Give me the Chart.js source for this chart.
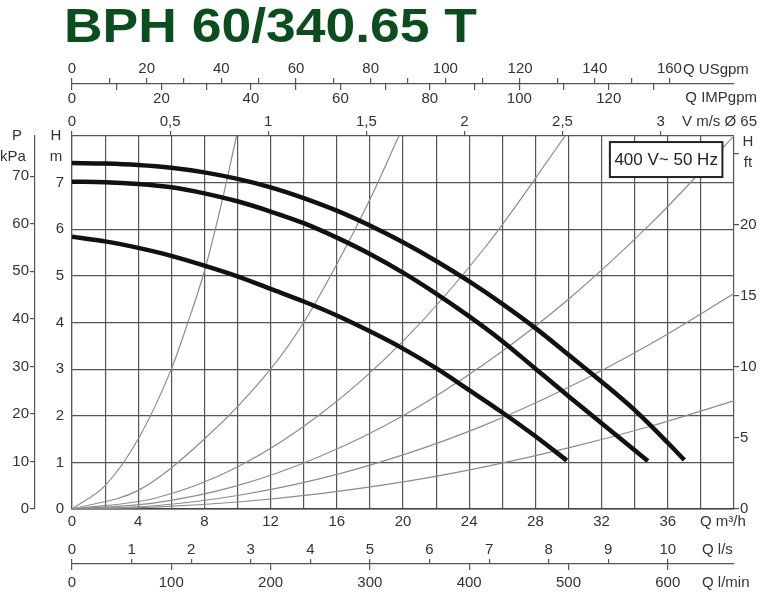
<!DOCTYPE html>
<html>
<head>
<meta charset="utf-8">
<script src="https://cdn.jsdelivr.net/npm/chart.js@4.4.1/dist/chart.umd.min.js"></script>
<style>
  html, body { margin: 0; padding: 0; background: #fff; }
  #wrap { width: 772px; height: 594px; position: relative; }
</style>
</head>
<body>
<div id="wrap"><canvas id="pump-chart"></canvas></div>
<script>
const FONT = '"Liberation Sans", Arial, sans-serif';

// pump curves, Q in m3/h, H in m
const q1 = [0, 2, 4, 6, 8, 10, 12, 14, 16, 18, 20, 22, 24, 26, 28, 30, 32, 34, 36, 37];
const h1 = [7.42, 7.41, 7.38, 7.32, 7.22, 7.08, 6.90, 6.67, 6.40, 6.08, 5.72, 5.32, 4.88, 4.40, 3.88, 3.31, 2.73, 2.12, 1.42, 1.05];
const q2 = [0, 2, 4, 6, 8, 10, 12, 14, 16, 18, 20, 22, 24, 26, 28, 30, 32, 34, 34.8];
const h2 = [7.02, 7.01, 6.97, 6.90, 6.77, 6.60, 6.38, 6.13, 5.82, 5.47, 5.07, 4.62, 4.13, 3.60, 3.01, 2.42, 1.84, 1.26, 1.03];
const q3 = [0, 2, 4, 6, 8, 10, 12, 14, 16, 18, 20, 22, 24, 26, 28, 29.9];
const h3 = [5.84, 5.74, 5.60, 5.43, 5.22, 4.99, 4.72, 4.45, 4.15, 3.81, 3.44, 3.02, 2.55, 2.07, 1.56, 1.04];

// thin system curves from the origin
const sqA = [0, 2, 4, 6, 7, 8, 9, 9.94];
const shA = [0, 0.5, 1.5, 3.0, 4.0, 5.1, 6.5, 8.0];
const sqB = [0, 4, 8, 12, 14, 16, 18, 19.75];
const shB = [0, 0.4, 1.5, 3.0, 4.0, 5.25, 6.64, 8.0];
const sqC = [0, 5, 10, 15, 20, 25, 29.8];
const shC = [0, 0.23, 0.9, 2.03, 3.6, 5.63, 8.0];
const sqD = [0, 5, 10, 15, 20, 25, 30, 35, 40];
const shD = [0, 0.13, 0.5, 1.13, 2.0, 3.13, 4.5, 6.13, 8.0];
const sqE = [0, 5, 10, 15, 20, 25, 30, 35, 40];
const shE = [0, 0.07, 0.29, 0.65, 1.16, 1.81, 2.61, 3.55, 4.62];
const sqF = [0, 5, 10, 15, 20, 25, 30, 35, 40];
const shF = [0, 0.04, 0.15, 0.33, 0.58, 0.91, 1.31, 1.78, 2.32];

// ranges of the secondary scales over Q = 0..40 m3/h, H = 0..8 m
const usgpmMax = 177.3;
const impgpmMax = 148;
const velMax = 3.374;
const lsMax = 11.11;
const lminMax = 666.7;
const kpaMax = 78.45;
const ftMax = 26.25;

const gridCol = '#555';
const txtCol = '#333';
const tickFont = { family: FONT, size: 15 };

function pts(q, h) {
  return q.map((v, i) => ({ x: v, y: h[i] }));
}

let pumpSet = (q, h) => ({
  data: pts(q, h), borderColor: '#111', borderWidth: 4.5,
  pointRadius: 0, fill: false, cubicInterpolationMode: 'monotone', order: 0
});
let sysSet = (q, h) => ({
  data: pts(q, h), borderColor: '#8c8c8c', borderWidth: 1.2,
  pointRadius: 0, fill: false, cubicInterpolationMode: 'monotone', order: 1
});

const extras = {
  id: 'extras',
  afterDatasetsDraw(chart) {
    const ctx = chart.ctx, x = chart.scales.x, y = chart.scales.y;
    const l = x.getPixelForValue(32.5), r = x.getPixelForValue(39.3);
    const t = y.getPixelForValue(7.87), b = y.getPixelForValue(7.12);
    ctx.save();
    ctx.fillStyle = '#fff';
    ctx.fillRect(l, t, r - l, b - t);
    ctx.strokeStyle = '#222';
    ctx.lineWidth = 2;
    ctx.strokeRect(l, t, r - l, b - t);
    ctx.fillStyle = '#222';
    ctx.font = '17px ' + FONT;
    ctx.textAlign = 'center';
    ctx.textBaseline = 'middle';
    ctx.fillText('400 V~ 50 Hz', (l + r) / 2, (t + b) / 2 + 1);
    ctx.restore();
  },
  afterDraw(chart) {
    const ctx = chart.ctx;
    ctx.save();
    // title
    ctx.fillStyle = '#0b4d1f';
    ctx.font = 'bold 49px ' + FONT;
    ctx.textBaseline = 'alphabetic';
    ctx.textAlign = 'left';
    const title = 'BPH 60/340.65 T';
    const w = ctx.measureText(title).width;
    ctx.translate(64, 42);
    ctx.scale(413 / w, 1);
    ctx.fillText(title, 0, 0);
    ctx.restore();

    ctx.save();
    ctx.fillStyle = txtCol;
    ctx.font = '15px ' + FONT;
    ctx.textBaseline = 'middle';
    const put = (s, px, py, al) => { ctx.textAlign = al; ctx.fillText(s, px, py); };
    put('P', 17, 136, 'center');
    put('kPa', 13, 157, 'center');
    put('H', 56, 136, 'center');
    put('m', 56, 157, 'center');
    put('H', 748, 142, 'center');
    put('ft', 748, 163, 'center');
    put('Q USgpm', 683, 70, 'left');
    put('Q IMPgpm', 757, 98, 'right');
    put('V m/s Ø 65', 757, 122, 'right');
    put('Q m³/h', 700, 522, 'left');
    put('Q l/s', 702, 550, 'left');
    put('Q l/min', 702, 583, 'left');
    ctx.restore();
  }
};

new Chart(document.getElementById('pump-chart'), {
  type: 'line',
  data: {
    datasets: [
      pumpSet(q1, h1), pumpSet(q2, h2), pumpSet(q3, h3),
      sysSet(sqA, shA), sysSet(sqB, shB), sysSet(sqC, shC),
      sysSet(sqD, shD), sysSet(sqE, shE), sysSet(sqF, shF)
    ]
  },
  options: {
    responsive: true,
    maintainAspectRatio: false,
    animation: false,
    events: [],
    layout: { padding: { top: 55, left: 0, right: 0, bottom: 0 } },
    plugins: { legend: { display: false }, tooltip: { enabled: false }, title: { display: false } },
    scales: {
      x: {
        type: 'linear', axis: 'x', position: 'bottom', min: 0, max: 40,
        ticks: { stepSize: 2, autoSkip: false, maxRotation: 0, font: tickFont, color: txtCol, padding: 4,
          callback: v => (v % 4 === 0 && v < 40) ? v : '' },
        grid: { color: gridCol, lineWidth: 1.2, drawTicks: false },
        border: { display: true, color: '#444', width: 1.6 },
        afterFit: s => { s.height = 55; }
      },
      lmin: {
        type: 'linear', axis: 'x', position: 'bottom', weight: 1, min: 0, max: lminMax,
        ticks: { stepSize: 100, includeBounds: false, autoSkip: false, maxRotation: 0, font: tickFont, color: txtCol, padding: 4 },
        grid: { drawOnChartArea: false, tickLength: 6, color: gridCol, lineWidth: 1.2 },
        border: { display: true, color: gridCol, width: 1.2 },
        afterBuildTicks: s => { s.ticks = s.ticks.filter(t => t.value <= 600); },
        afterFit: s => { s.height = 30; }
      },
      ls: {
        type: 'linear', axis: 'x', position: { y: -1.18 }, min: 0, max: lsMax,
        ticks: { stepSize: 1, includeBounds: false, autoSkip: false, maxRotation: 0, font: tickFont, color: txtCol,
          mirror: true, padding: 0 },
        grid: { drawOnChartArea: false, tickLength: -5, color: gridCol, lineWidth: 1.2 },
        border: { display: false },
        afterBuildTicks: s => { s.ticks = s.ticks.filter(t => t.value <= 10); }
      },
      vel: {
        type: 'linear', axis: 'x', position: 'top', weight: 0, min: 0, max: velMax,
        ticks: { stepSize: 0.5, includeBounds: false, autoSkip: false, maxRotation: 0, font: tickFont, color: txtCol, padding: 0,
          callback: v => String(v).replace('.', ',') },
        grid: { drawOnChartArea: false, tickLength: 5, color: gridCol, lineWidth: 1.2 },
        border: { display: false },
        afterFit: s => { s.height = 52; }
      },
      usgpm: {
        type: 'linear', axis: 'x', position: 'top', weight: 1, min: 0, max: usgpmMax,
        ticks: { stepSize: 10, includeBounds: false, autoSkip: false, maxRotation: 0, font: tickFont, color: txtCol, padding: 0,
          callback: v => v % 20 === 0 ? v : '' },
        grid: { drawOnChartArea: false, tickLength: 6, color: gridCol, lineWidth: 1.2 },
        border: { display: true, color: gridCol, width: 1.2 },
        afterBuildTicks: s => { s.ticks = s.ticks.filter(t => t.value <= 160); },
        afterFit: s => { s.height = 29; }
      },
      impgpm: {
        type: 'linear', axis: 'x', position: { y: 9.115 }, min: 0, max: impgpmMax,
        ticks: { stepSize: 10, includeBounds: false, autoSkip: false, maxRotation: 0, font: tickFont, color: txtCol, padding: 0,
          callback: v => v % 20 === 0 ? v : '' },
        grid: { drawOnChartArea: false, tickLength: 6, color: gridCol, lineWidth: 1.2 },
        border: { display: false },
        afterBuildTicks: s => { s.ticks = s.ticks.filter(t => t.value <= 130); }
      },
      y: {
        type: 'linear', axis: 'y', position: 'left', weight: 0, min: 0, max: 8,
        ticks: { stepSize: 1, font: tickFont, color: txtCol, padding: 8,
          callback: v => v < 8 ? v : '' },
        grid: { color: gridCol, lineWidth: 1.2, drawTicks: false },
        border: { display: true, color: gridCol, width: 1.2 },
        afterFit: s => { s.width = 37; }
      },
      kpa: {
        type: 'linear', axis: 'y', position: 'left', weight: 1, min: 0, max: kpaMax,
        ticks: { stepSize: 10, includeBounds: false, font: tickFont, color: txtCol, padding: 1 },
        grid: { drawOnChartArea: false, tickLength: 5, color: gridCol, lineWidth: 1.2 },
        border: { display: true, color: gridCol, width: 1.2 },
        afterFit: s => { s.width = 35; }
      },
      ft: {
        type: 'linear', axis: 'y', position: 'right', min: 0, max: ftMax,
        ticks: { stepSize: 5, includeBounds: false, font: tickFont, color: txtCol, padding: 1,
          callback: v => v < 25 ? v : '' },
        grid: { drawOnChartArea: false, tickLength: 5, color: gridCol, lineWidth: 1.2 },
        border: { display: false },
        afterFit: s => { s.width = 38; }
      }
    }
  },
  plugins: [extras]
});
</script>
</body>
</html>
